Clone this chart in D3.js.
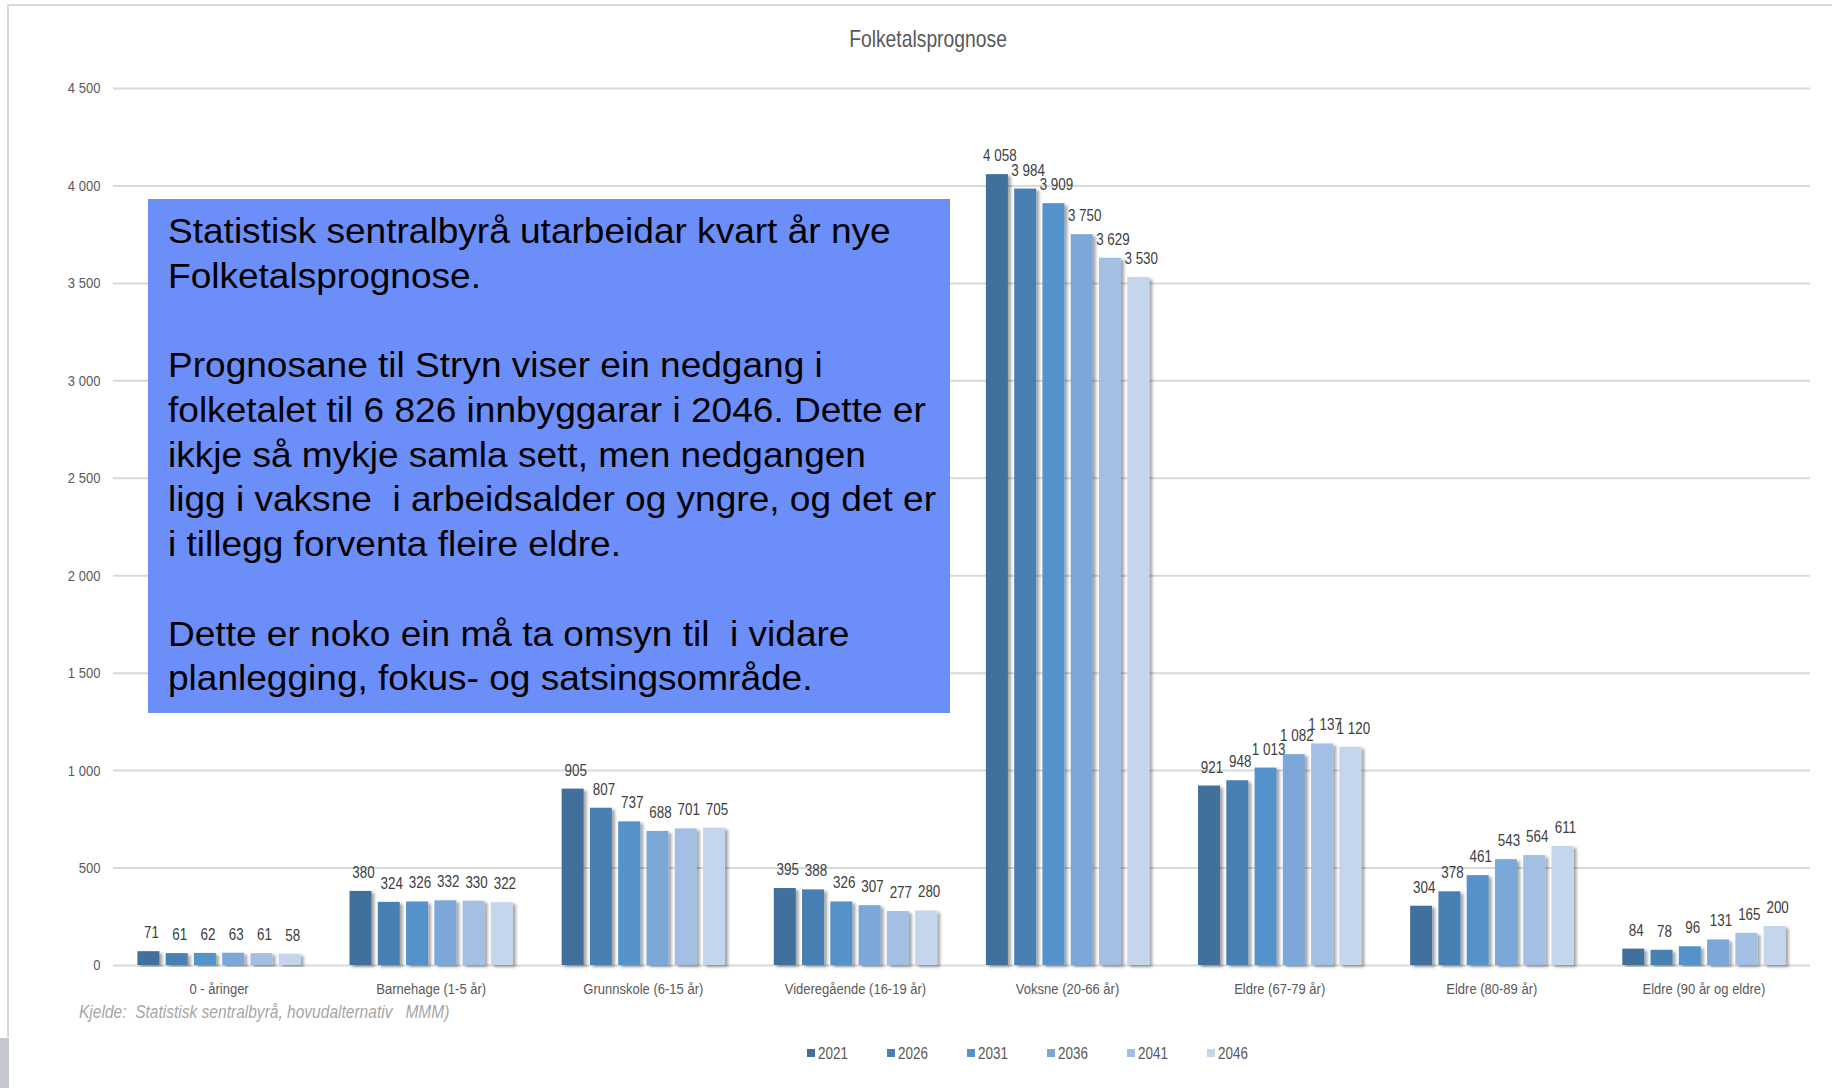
<!DOCTYPE html>
<html>
<head>
<meta charset="utf-8">
<script src="https://cdn.jsdelivr.net/npm/d3@7"></script>
<style>
  body { margin: 0; background: #fff; }
  svg text { font-family: "Liberation Sans", Arial, sans-serif; }
</style>
</head>
<body>
<div id="chart"></div>
<script>
// chart values
var categories = ["0 - åringer", "Barnehage (1-5 år)", "Grunnskole (6-15 år)", "Videregående (16-19 år)",
                  "Voksne (20-66 år)", "Eldre (67-79 år)", "Eldre (80-89 år)", "Eldre (90 år og eldre)"];
var years = ["2021", "2026", "2031", "2036", "2041", "2046"];
var v2021 = [71, 380, 905, 395, 4058, 921, 304, 84];
var v2026 = [61, 324, 807, 388, 3984, 948, 378, 78];
var v2031 = [62, 326, 737, 326, 3909, 1013, 461, 96];
var v2036 = [63, 332, 688, 307, 3750, 1082, 543, 131];
var v2041 = [61, 330, 701, 277, 3629, 1137, 564, 165];
var v2046 = [58, 322, 705, 280, 3530, 1120, 611, 200];
var yTicks = [0, 500, 1000, 1500, 2000, 2500, 3000, 3500, 4000, 4500];
var colors = ["#426f9c", "#4a80b4", "#5592cb", "#7ba8d9", "#a3c0e4", "#c4d5ec"];

var boxLines = [
  "Statistisk sentralbyrå utarbeidar kvart år nye",
  "Folketalsprognose.",
  "",
  "Prognosane til Stryn viser ein nedgang i",
  "folketalet til 6 826 innbyggarar i 2046. Dette er",
  "ikkje så mykje samla sett, men nedgangen",
  "ligg i vaksne  i arbeidsalder og yngre, og det er",
  "i tillegg forventa fleire eldre.",
  "",
  "Dette er noko ein må ta omsyn til  i vidare",
  "planlegging, fokus- og satsingsområde."
];

var series = [v2021, v2026, v2031, v2036, v2041, v2046];

// build rows for the grouped bars
var rows = categories.map(function(c, i) {
  return { cat: c, vals: years.map(function(y, j) { return { year: y, value: series[j][i] }; }) };
});

var svgWidth = 1832;
var svgHeight = 1088;
var margin = { top: 88, right: 22, bottom: 123, left: 113 };
var chartWidth = svgWidth - margin.left - margin.right;
var chartHeight = svgHeight - margin.top - margin.bottom;

// the slide is squashed sideways, so the text is too
var squash = 0.84;

var fmt = d3.formatLocale({ decimal: ",", thousands: " ", grouping: [3], currency: ["", ""] }).format(",d");

var svg = d3.select("#chart").append("svg")
  .attr("width", svgWidth)
  .attr("height", svgHeight);

// drop shadow for the bars
var defs = svg.append("defs");
defs.append("filter").attr("id", "shadow")
  .attr("x", "-20%").attr("y", "-5%").attr("width", "150%").attr("height", "115%")
  .append("feDropShadow")
  .attr("dx", 3).attr("dy", 2).attr("stdDeviation", 1.8)
  .attr("flood-color", "#000").attr("flood-opacity", 0.35);

// frame
svg.append("path")
  .attr("d", "M8,1037 V5 H1832")
  .attr("fill", "none")
  .attr("stroke", "#d9d9d9")
  .attr("stroke-width", 2);
svg.append("rect")
  .attr("x", 0).attr("y", 1038).attr("width", 9).attr("height", 50)
  .attr("fill", "#c4c8cc");

// title
svg.append("text")
  .attr("transform", `translate(928, 47) scale(${squash}, 1)`)
  .attr("text-anchor", "middle")
  .attr("font-size", 23)
  .attr("fill", "#595959")
  .text("Folketalsprognose");

var chartGroup = svg.append("g")
  .attr("transform", `translate(${margin.left}, ${margin.top})`);

var x0 = d3.scaleBand()
  .domain(categories)
  .range([0, chartWidth])
  .paddingInner(0.23)
  .paddingOuter(0.115);

var x1 = d3.scaleBand()
  .domain(years)
  .range([0, x0.bandwidth()])
  .paddingInner(0.222);

var y = d3.scaleLinear()
  .domain([0, 4500])
  .range([chartHeight, 0]);

// gridlines + y labels
var leftAxis = d3.axisLeft(y)
  .tickValues(yTicks)
  .tickSize(-chartWidth)
  .tickPadding(15)
  .tickFormat(fmt);

var yAxis = chartGroup.append("g").call(leftAxis);
yAxis.select(".domain").remove();
yAxis.selectAll("line").attr("stroke", "#d9d9d9").attr("stroke-width", 2);
yAxis.selectAll("text")
  .attr("font-size", 15.5)
  .attr("fill", "#595959")
  .attr("transform", `scale(${squash}, 1)`);

// category labels
var bottomAxis = d3.axisBottom(x0).tickSize(0).tickPadding(18);
var xAxis = chartGroup.append("g")
  .attr("transform", `translate(0, ${chartHeight})`)
  .call(bottomAxis);
xAxis.select(".domain").remove();
xAxis.selectAll("text")
  .attr("font-size", 15.5)
  .attr("fill", "#595959")
  .attr("transform", `scale(${squash}, 1)`);

// bars
var groups = chartGroup.selectAll(".grp")
  .data(rows)
  .enter()
  .append("g")
  .attr("class", "grp")
  .attr("transform", d => `translate(${x0(d.cat)}, 0)`);

groups.selectAll("rect")
  .data(d => d.vals)
  .enter()
  .append("rect")
  .attr("x", d => x1(d.year))
  .attr("y", d => y(d.value))
  .attr("width", x1.bandwidth())
  .attr("height", d => chartHeight - y(d.value))
  .attr("fill", (d, i) => colors[i])
  .attr("filter", "url(#shadow)");

groups.selectAll("text.lbl")
  .data(d => d.vals)
  .enter()
  .append("text")
  .attr("class", "lbl")
  .attr("transform", d => `translate(${x1(d.year) + x1.bandwidth() / 2 + 3}, ${y(d.value) - 13}) scale(${squash}, 1)`)
  .attr("text-anchor", "middle")
  .attr("font-size", 16)
  .attr("fill", "#404040")
  .text(d => fmt(d.value));

// source note
svg.append("text")
  .attr("transform", `translate(79, 1018) scale(${squash}, 1)`)
  .attr("font-size", 18.5)
  .attr("font-style", "italic")
  .attr("fill", "#a6a6a6")
  .attr("xml:space", "preserve")
  .text("Kjelde:  Statistisk sentralbyrå, hovudalternativ   MMM)");

// legend
var legend = svg.append("g").attr("transform", "translate(807, 1053)");
var items = legend.selectAll("g")
  .data(years)
  .enter()
  .append("g")
  .attr("transform", (d, i) => `translate(${i * 80}, 0)`);
items.append("rect")
  .attr("x", 0).attr("y", -4).attr("width", 8).attr("height", 8)
  .attr("fill", (d, i) => colors[i]);
items.append("text")
  .attr("transform", `translate(11, 6) scale(${squash}, 1)`)
  .attr("font-size", 16)
  .attr("fill", "#595959")
  .text(d => d);

// text box on top
svg.append("rect")
  .attr("x", 148).attr("y", 199)
  .attr("width", 802).attr("height", 514)
  .attr("fill", "#6c8ef8");

var boxText = svg.append("g").attr("transform", "translate(168, 243)");
var tg = boxText.append("g");
tg.selectAll("text")
  .data(boxLines)
  .enter()
  .append("text")
  .attr("x", 0)
  .attr("y", (d, i) => i * 44.75)
  .attr("xml:space", "preserve")
  .attr("font-size", 36)
  .attr("fill", "#000")
  .text(d => d);

// squeeze the box text to the width of the first line in the original
var firstLen = tg.select("text").node().getComputedTextLength();
tg.attr("transform", `scale(${723 / firstLen}, 1)`);
</script>
</body>
</html>
